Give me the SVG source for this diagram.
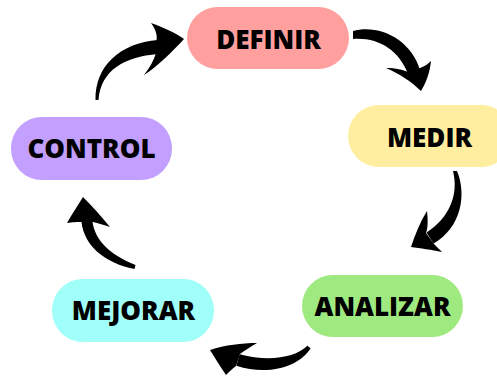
<svg xmlns="http://www.w3.org/2000/svg" width="497" height="377" viewBox="0 0 497 377">
<style>
.lbl{font-family:"Open Sans","Noto Sans","Liberation Sans",sans-serif;font-weight:800;font-size:26px;fill:#000;text-anchor:middle}
.arr{fill:#000}
</style>
<rect width="497" height="377" fill="#fff"/>
<g id="definir"><rect x="187" y="7" width="162" height="62" rx="31" fill="#FFA09F"/><text class="lbl" x="268.5" y="49">DEFINIR</text></g>
<g id="medir"><rect x="348" y="105" width="164" height="62" rx="31" fill="#FFEE9F"/><text class="lbl" x="429.5" y="147">MEDIR</text></g>
<g id="analizar"><rect x="302" y="275" width="161" height="62" rx="31" fill="#9EEA80"/><text class="lbl" x="382.5" y="316">ANALIZAR</text></g>
<g id="mejorar"><rect x="52" y="279" width="162" height="63" rx="31" fill="#A0FFF9"/><text class="lbl" x="133.5" y="320">MEJORAR</text></g>
<g id="control"><rect x="11" y="117" width="161" height="63" rx="31" fill="#C3A0FF"/><text class="lbl" x="91.5" y="158">CONTROL</text></g>
<g id="connectors">
<path class="arr" d="M95.5,100 C95,66 120,43 158,40 L158,54 C124,57 101,70 98.5,100 Z"/>
<path class="arr" d="M184,39 C176,33 162,27 151,23 C156,30 158,36 156,42 L156,53 C154,60 150,67 144,75 C158,66 172,52 184,39 Z"/>
<path class="arr" d="M353,31 C380,24 411,40 420,70 L408,74 C399,50 378,37 353,39 Z"/>
<path class="arr" d="M421,91 C412,82 398,73 386,68 C396,68 403,70 408,72 L420,68 C425,66 428,64 431,61 C430,72 426,83 421,91 Z"/>
<path class="arr" d="M457,171 C467,195 461,228 433.5,243.5 L426.5,232.5 C449,218 459,195 453,171 Z"/>
<path class="arr" d="M411,247 C415,235 420,222 427,211 C428,220 428,228 426,233 L434,244 C437,247 440,250 442,252 C432,250 420,248 411,247 Z"/>
<path class="arr" d="M310.6,348.2 C299,367 268,376 236.3,365.8 L239.7,354.2 C268,362 295,358 307.4,345.8 Z"/>
<path class="arr" d="M210,350 C225,345 242,343 257,343 C250,347 244,351 240,354 L236,366 C232,369 229,372 226,375 C220,366 215,358 210,350 Z"/>
<path class="arr" d="M134.5,269 C104,263 84,245 81.5,222 L92.5,222 C95,240 110,255 135.5,265 Z"/>
<path class="arr" d="M83,197 C78,205 72,214 67,223 C72,222 78,222 81,222 L93,222 C98,223 104,225 110,227 C101,216 92,206 83,197 Z"/>
</g>
</svg>
